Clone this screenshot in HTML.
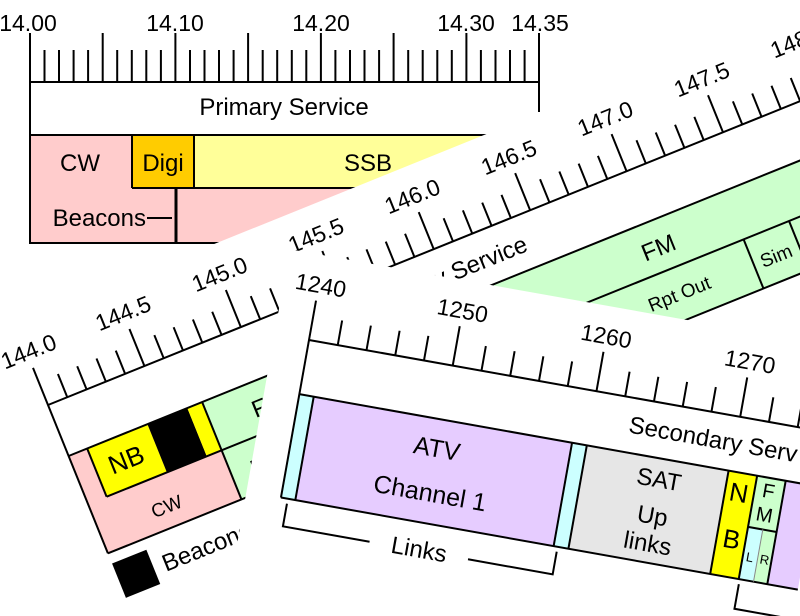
<!DOCTYPE html>
<html><head><meta charset="utf-8"><style>
html,body{margin:0;padding:0;background:#fff;overflow:hidden;width:800px;height:616px;}
svg{display:block;font-family:"Liberation Sans",Arial,sans-serif;}
</style></head><body>
<svg width="800" height="616" viewBox="0 0 800 616" overflow="hidden" xmlns="http://www.w3.org/2000/svg">
<defs><clipPath id="frame"><rect width="800" height="616"/></clipPath></defs>
<rect width="800" height="616" fill="#fff"/>
<g clip-path="url(#frame)">
<!-- Panel 1: 14 MHz -->
<g stroke="#000" stroke-width="2" fill="none">
  <rect x="30" y="135" width="500" height="108" fill="#ffcccc" stroke="none"/>
  <rect x="132" y="135" width="62" height="53" fill="#ffcc00" stroke="none"/>
  <rect x="194" y="135" width="340" height="53" fill="#ffff99" stroke="none"/>
  <line x1="30" y1="82" x2="539" y2="82"/>
  <line x1="30" y1="33" x2="30" y2="244"/>
  <line x1="539" y1="33" x2="539" y2="112"/>
  <line x1="30" y1="135" x2="530" y2="135"/>
  <line x1="132" y1="135" x2="132" y2="188"/>
  <line x1="194" y1="135" x2="194" y2="188"/>
  <line x1="132" y1="188" x2="530" y2="188"/>
  <line x1="176" y1="188" x2="176" y2="243" stroke-width="3"/>
  <line x1="30" y1="243" x2="530" y2="243"/>
  <line x1="147" y1="218" x2="172" y2="218"/>
  <path d="M44.5 82V50M59 82V50M73.6 82V50M88.1 82V50M102.7 82V33M117.2 82V50M131.8 82V50M146.3 82V50M160.9 82V50M175.4 82V33M190 82V50M204.5 82V50M219 82V50M233.6 82V50M248.1 82V33M262.7 82V50M277.2 82V50M291.8 82V50M306.3 82V50M320.9 82V33M335.4 82V50M350 82V50M364.5 82V50M379.1 82V50M393.6 82V33M408.2 82V50M422.7 82V50M437.3 82V50M451.8 82V50M466.4 82V33M480.9 82V50M495.5 82V50M510 82V50M524.6 82V50"/>
</g>
<g font-size="23" fill="#000" text-anchor="middle">
  <text x="28" y="31">14.00</text><text x="175" y="31">14.10</text>
  <text x="321" y="31">14.20</text><text x="466" y="31">14.30</text><text x="540" y="31">14.35</text>
  <text x="284" y="115" font-size="24">Primary Service</text>
  <text x="80" y="171" font-size="24">CW</text><text x="163" y="171" font-size="24">Digi</text><text x="368" y="171" font-size="24">SSB</text>
  <text x="146" y="226" font-size="24" text-anchor="end">Beacons</text>
</g>

<!-- Panel 2: 2 m -->
<g transform="translate(48,405) rotate(-22)">
  <rect x="-80" y="-87" width="1000" height="330" fill="#fff"/>
  <rect x="0" y="55" width="144" height="105" fill="#ffcccc"/>
  <rect x="20" y="55" width="65" height="52" fill="#ffff00"/>
  <rect x="85" y="55" width="43" height="52" fill="#000"/>
  <rect x="128" y="55" width="16" height="52" fill="#ffff00"/>
  <rect x="144" y="55" width="800" height="105" fill="#ccffcc"/>
  <g stroke="#000" stroke-width="2" fill="none">
    <line x1="0" y1="0" x2="940" y2="0"/>
    <line x1="0" y1="-40" x2="0" y2="160"/>
    <line x1="0" y1="55" x2="940" y2="55"/>
    <line x1="20" y1="55" x2="20" y2="107"/>
    <line x1="20" y1="107" x2="940" y2="107"/>
    <line x1="144" y1="55" x2="144" y2="160"/>
    <line x1="0" y1="160" x2="940" y2="160"/>
    <line x1="707" y1="107" x2="707" y2="160"/>
    <line x1="756" y1="107" x2="756" y2="160"/>
    <path d="M20.8 0V-25M41.6 0V-25M62.4 0V-25M83.2 0V-25M104 0V-40M124.8 0V-25M145.6 0V-25M166.4 0V-25M187.2 0V-25M208 0V-40M228.8 0V-25M249.6 0V-25M270.4 0V-25M291.2 0V-25M312 0V-40M332.8 0V-25M353.6 0V-25M374.4 0V-25M395.2 0V-25M416 0V-40M436.8 0V-25M457.6 0V-25M478.4 0V-25M499.2 0V-25M520 0V-40M540.8 0V-25M561.6 0V-25M582.4 0V-25M603.2 0V-25M624 0V-40M644.8 0V-25M665.6 0V-25M686.4 0V-25M707.2 0V-25M728 0V-40M748.8 0V-25M769.6 0V-25M790.4 0V-25M811.2 0V-25M832 0V-40M852.8 0V-25M873.6 0V-25M894.4 0V-25M915.2 0V-25"/>
  </g>
  <rect x="0" y="171" width="37" height="37" fill="#000"/>
  <g font-size="23" fill="#000" text-anchor="middle">
    <text x="2" y="-49">144.0</text><text x="104" y="-49">144.5</text><text x="208" y="-49">145.0</text>
    <text x="312" y="-49">145.5</text><text x="416" y="-49">146.0</text><text x="520" y="-49">146.5</text>
    <text x="624" y="-49">147.0</text><text x="728" y="-49">147.5</text><text x="832" y="-49">148.0</text>
    <text x="504" y="37" text-anchor="end" font-size="24">Primary Service</text>
    <text x="52" y="89" font-size="26">NB</text>
    <text x="72" y="145" font-size="19">CW</text>
    <text x="205" y="90" font-size="24">FM</text>
    <text x="190" y="141" font-size="19">Rpt In</text>
    <text x="625" y="91" font-size="24">FM</text>
    <text x="627" y="140" font-size="19">Rpt Out</text>
    <text x="731" y="141" font-size="19">Sim</text>
    <text x="47" y="199" text-anchor="start" font-size="24">Beacons</text>
  </g>
</g>

<!-- Panel 3: 23 cm -->
<g transform="translate(309,340) rotate(10.1)">
  <rect x="-35" y="-86" width="560" height="300" fill="#fff"/>
  <rect x="0" y="55" width="14.6" height="105" fill="#ccffff"/>
  <rect x="14.6" y="55" width="262.4" height="105" fill="#e6ccff"/>
  <rect x="277" y="55" width="15" height="105" fill="#ccffff"/>
  <rect x="292" y="55" width="144" height="105" fill="#e6e6e6"/>
  <rect x="436" y="55" width="29" height="105" fill="#ffff00"/>
  <rect x="465" y="55" width="29" height="52" fill="#ccffcc"/>
  <rect x="465" y="107" width="15" height="53" fill="#ccffff"/>
  <rect x="480" y="107" width="14" height="53" fill="#ccffcc"/>
  <rect x="494" y="55" width="31" height="105" fill="#e6ccff"/>
  <g stroke="#000" stroke-width="2" fill="none">
    <line x1="0" y1="0" x2="525" y2="0"/>
    <line x1="0" y1="-40" x2="0" y2="160"/>
    <line x1="0" y1="55" x2="525" y2="55"/>
    <line x1="0" y1="160" x2="525" y2="160"/>
    <line x1="14.6" y1="55" x2="14.6" y2="160"/>
    <line x1="277" y1="55" x2="277" y2="160"/>
    <line x1="292" y1="55" x2="292" y2="160"/>
    <line x1="436" y1="55" x2="436" y2="160"/>
    <line x1="465" y1="55" x2="465" y2="160"/>
    <line x1="494" y1="55" x2="494" y2="160"/>
    <line x1="465" y1="107" x2="494" y2="107"/>
    <line x1="480" y1="107" x2="480" y2="160" stroke-width="1" stroke="#888"/>
    <path d="M7 165V188H95M195 188H281V165"/>
    <path d="M466 165V190H525"/>
    <path d="M29.2 0V-25M58.4 0V-25M87.6 0V-25M116.8 0V-25M146 0V-40M175.2 0V-25M204.4 0V-25M233.6 0V-25M262.8 0V-25M292 0V-40M321.2 0V-25M350.4 0V-25M379.6 0V-25M408.8 0V-25M438 0V-40M467.2 0V-25M496.4 0V-25"/>
  </g>
  <g font-size="23" fill="#000" text-anchor="middle">
    <text x="2" y="-48">1240</text><text x="146" y="-48">1250</text>
    <text x="292" y="-48">1260</text><text x="438" y="-48">1270</text>
    <text x="330" y="35" text-anchor="start" font-size="24">Secondary Serv</text>
    <text x="145" y="93" font-size="25">ATV</text>
    <text x="146" y="138" font-size="25">Channel 1</text>
    <text x="369" y="84" font-size="24">SAT</text>
    <text x="369" y="121" font-size="24">Up</text>
    <text x="369" y="149" font-size="24">links</text>
    <text x="145" y="195" font-size="24">Links</text>
    <text x="450" y="84" font-size="26">N</text>
    <text x="451" y="131" font-size="26">B</text>
    <text x="479" y="75" font-size="20">F</text>
    <text x="479" y="99" font-size="20">M</text>
    <text x="472" y="141" font-size="13">L</text>
    <text x="487" y="141" font-size="13">R</text>
  </g>
</g>
</g>
</svg>
</body></html>
